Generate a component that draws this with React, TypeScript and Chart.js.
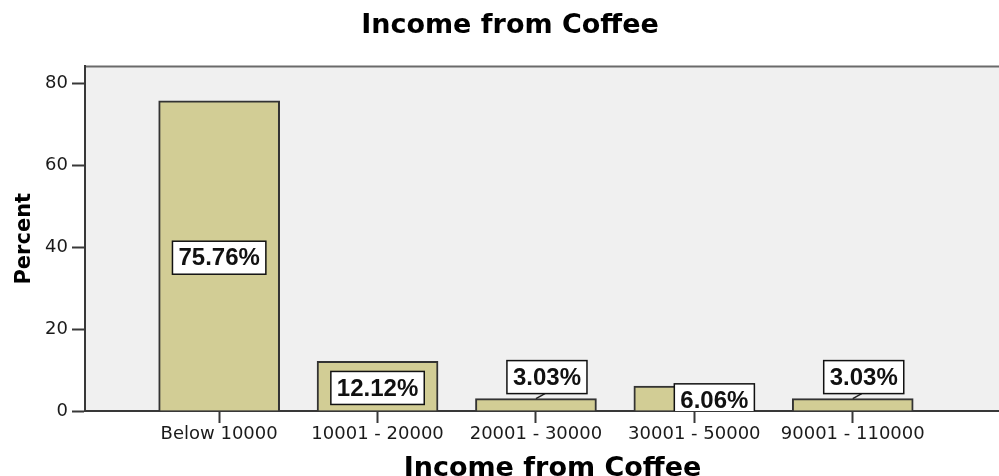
import React, { useEffect, useRef } from "react";
import { Chart, registerables } from "chart.js";

Chart.register(...registerables);

const categories = ["Below 10000", "10001 - 20000", "20001 - 30000", "30001 - 50000", "90001 - 110000"];
const percents = [75.76, 12.12, 3.03, 6.06, 3.03];
const yTickValues = [0, 20, 40, 60, 80];
const chartTitle = "Income from Coffee";
const xAxisTitle = "Income from Coffee";
const yAxisTitle = "Percent";

const CANVAS_W = 1020;
const CANVAS_H = 490;
const X_MIN = -0.847;
const X_MAX = 5.056;
const Y_MAX = 84.2;

const BAR_FILL = "#D2CD95";
const BAR_EDGE = "#333333";
const PLOT_BG = "#F0F0F0";
const AXIS_COLOR = "#383838";

const plotBackground = {
  id: "plotBackground",
  beforeDraw(chart: any) {
    const { ctx, chartArea: ca } = chart;
    ctx.save();
    ctx.fillStyle = PLOT_BG;
    ctx.fillRect(ca.left, ca.top, ca.right - ca.left, ca.bottom - ca.top);
    ctx.strokeStyle = "#6a6a6a";
    ctx.lineWidth = 2;
    ctx.beginPath();
    ctx.moveTo(ca.left, ca.top);
    ctx.lineTo(ca.right, ca.top);
    ctx.stroke();
    ctx.restore();
  },
};

const percentLabels = {
  id: "percentLabels",
  afterDatasetsDraw(chart: any) {
    const { ctx, chartArea: ca } = chart;
    const meta = chart.getDatasetMeta(0);
    ctx.save();
    ctx.beginPath();
    ctx.rect(ca.left, ca.top, ca.right - ca.left, ca.bottom - ca.top);
    ctx.clip();
    ctx.font = 'bold 24px "Liberation Sans", Arial, sans-serif';
    ctx.textAlign = "center";
    ctx.textBaseline = "middle";
    meta.data.forEach((bar: any, i: number) => {
      const { x, y, base } = bar.getProps(["x", "y", "base"], true);
      const text = percents[i].toFixed(2) + "%";
      const tw = ctx.measureText(text).width;
      const bw = tw + 12;
      const bh = 33;
      const h = base - y;
      let cx: number;
      let cy: number;
      if (h >= 20) {
        cy = (y + base) / 2 + 2;
        cx = x + (h < bh ? 20 : 0);
      } else {
        const gap = 5;
        cy = y - gap - bh / 2;
        cx = x + 11;
        ctx.strokeStyle = "#222";
        ctx.lineWidth = 1.5;
        ctx.beginPath();
        ctx.moveTo(x, y);
        ctx.lineTo(x + 9, y - gap);
        ctx.stroke();
      }
      ctx.fillStyle = "#ffffff";
      ctx.fillRect(cx - bw / 2, cy - bh / 2, bw, bh);
      ctx.strokeStyle = "#111";
      ctx.lineWidth = 1.5;
      ctx.strokeRect(cx - bw / 2, cy - bh / 2, bw, bh);
      ctx.fillStyle = "#111";
      ctx.fillText(text, cx, cy + 1);
    });
    ctx.restore();
  },
};

export default function App() {
  const ref = useRef<HTMLCanvasElement | null>(null);

  useEffect(() => {
    if (!ref.current) return;
    const chart = new Chart(ref.current, {
      type: "bar",
      data: {
        datasets: [
          {
            data: percents.map((v, i) => ({ x: i, y: v })),
            backgroundColor: BAR_FILL,
            borderColor: BAR_EDGE,
            borderWidth: 2,
            barThickness: 121,
          },
        ],
      },
      options: {
        responsive: false,
        animation: false,
        layout: { padding: 0 },
        plugins: {
          legend: { display: false },
          tooltip: { enabled: false },
          title: {
            display: true,
            text: chartTitle,
            color: "#000",
            font: { family: "DejaVu Sans", size: 27, weight: "bold" },
            padding: { top: 10, bottom: 24 },
          },
        },
        scales: {
          x: {
            type: "linear",
            min: X_MIN,
            max: X_MAX,
            offset: false,
            z: 1,
            afterBuildTicks: (scale: any) => {
              scale.ticks = categories.map((_, i) => ({ value: i }));
            },
            afterFit: (scale: any) => {
              scale.height = 79;
            },
            grid: {
              offset: false,
              drawOnChartArea: false,
              drawTicks: true,
              tickLength: 12,
              tickColor: AXIS_COLOR,
              tickWidth: 2,
            },
            border: { display: true, color: AXIS_COLOR, width: 2 },
            ticks: {
              autoSkip: false,
              maxRotation: 0,
              padding: 1,
              color: "#1a1a1a",
              font: { family: "DejaVu Sans", size: 18 },
              callback: (v: any) => categories[Math.round(Number(v))] ?? "",
            },
            title: {
              display: true,
              text: xAxisTitle,
              color: "#000",
              font: { family: "DejaVu Sans", size: 27, weight: "bold" },
              padding: { top: 0, bottom: 5 },
            },
          },
          y: {
            min: 0,
            max: Y_MAX,
            afterBuildTicks: (scale: any) => {
              scale.ticks = yTickValues.map((v) => ({ value: v }));
            },
            afterFit: (scale: any) => {
              scale.width = 85;
            },
            grid: {
              drawOnChartArea: false,
              drawTicks: true,
              tickLength: 13,
              tickColor: AXIS_COLOR,
              tickWidth: 2,
            },
            border: { display: true, color: AXIS_COLOR, width: 2 },
            ticks: {
              padding: 4,
              color: "#1a1a1a",
              font: { family: "DejaVu Sans", size: 18 },
            },
            title: {
              display: true,
              text: yAxisTitle,
              color: "#000",
              font: { family: "DejaVu Sans", size: 21, weight: "bold" },
              padding: { top: 12, bottom: 0 },
            },
          },
        },
      },
      plugins: [plotBackground, percentLabels],
    } as any);
    return () => chart.destroy();
  }, []);

  return (
    <div
      style={{
        position: "fixed",
        left: 0,
        top: 0,
        width: 999,
        height: 476,
        overflow: "hidden",
        background: "#ffffff",
      }}
    >
      <canvas ref={ref} width={CANVAS_W} height={CANVAS_H} style={{ display: "block" }} />
    </div>
  );
}
